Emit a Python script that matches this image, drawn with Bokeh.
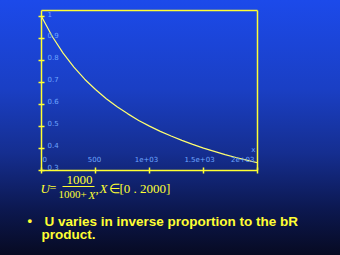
from bokeh.plotting import figure
from bokeh.models import Range1d, ColumnDataSource, Label, BoxAnnotation, LinearAxis, FixedTicker
from bokeh.core.properties import value
from bokeh.embed import file_html
from bokeh.resources import INLINE

# data
x_vals = [0, 100, 200, 300, 400, 500, 600, 700, 800, 900, 1000,
          1100, 1200, 1300, 1400, 1500, 1600, 1700, 1800, 1900, 2000]
u_vals = [1.0, 0.909, 0.833, 0.769, 0.714, 0.667, 0.625, 0.588, 0.556, 0.526, 0.5,
          0.476, 0.455, 0.435, 0.417, 0.4, 0.385, 0.37, 0.357, 0.345, 0.333]
x_ticks = [0, 500, 1000, 1500, 2000]
x_tick_labels = ["0", "500", "1e+03", "1.5e+03", "2e+03"]
y_ticks = [1.0, 0.9, 0.8, 0.7, 0.6, 0.5, 0.4, 0.3]
y_tick_labels = ["1", "0.9", "0.8", "0.7", "0.6", "0.5", "0.4", "0.3"]
x_min, x_max = 0, 2000
y_min, y_max = 0.3, 1.0274

YEL = "#ffff33"
CURVE = "#ffff70"
LBL = "#6ea6ff"

# plot box: x 0..2000 -> px 41..257, y 0.3 -> px 169.5, 1.0 -> px 16
kx = 216.0 / 2000
ky = 153.5 / 0.7
XS, XE = -41 / kx, 2000 + 83 / kx
YS, YE = 0.3 - 85.5 / ky, 1.0 + 16 / ky

p = figure(width=340, height=255, output_backend="svg", toolbar_location=None,
           x_range=Range1d(XS, XE), y_range=Range1d(YS, YE),
           min_border=0, min_border_left=0, min_border_right=0,
           min_border_top=0, min_border_bottom=0)
p.styles = {"background-image": "linear-gradient(to bottom, #1c4aea 0%, #1a3fc4 35%, #152e90 60%, #0c1850 82%, #070a22 100%)"}
p.background_fill_color = None
p.border_fill_color = None
p.outline_line_color = None
p.grid.visible = False

p.xaxis.fixed_location = y_min
p.xaxis.bounds = (x_min, x_max)
p.yaxis.fixed_location = x_min
p.yaxis.bounds = (y_min, y_max)
for ax in (p.xaxis[0], p.yaxis[0]):
    ax.axis_line_color = YEL
    ax.axis_line_width = 1.5
    ax.major_tick_line_color = YEL
    ax.major_tick_line_width = 1.5
    ax.major_tick_in = 3
    ax.major_tick_out = 3
    ax.minor_tick_line_color = None
    ax.major_label_text_color = None
    ax.major_label_text_font_size = "1px"
p.xaxis.ticker = x_ticks
p.yaxis.ticker = y_ticks

top_ax = LinearAxis(fixed_location=y_max, bounds=(x_min, x_max), ticker=FixedTicker(ticks=[]),
                    axis_line_color=YEL, axis_line_width=1.5, major_tick_line_color=None,
                    minor_tick_line_color=None, major_label_text_color=None,
                    major_label_text_font_size="1px")
p.add_layout(top_ax, "above")
right_ax = LinearAxis(fixed_location=x_max, bounds=(y_min, y_max), ticker=FixedTicker(ticks=[]),
                      axis_line_color=YEL, axis_line_width=1.5, major_tick_line_color=None,
                      minor_tick_line_color=None, major_label_text_color=None,
                      major_label_text_font_size="1px")
p.add_layout(right_ax, "right")

p.line(x_vals, u_vals, line_color=CURVE, line_width=1.2)

xs = ColumnDataSource(dict(x=x_ticks, y=[y_min] * len(x_ticks), t=x_tick_labels,
                           a=["left", "center", "center", "center", "right"],
                           o=[1, -1, -3, -4, -3]))
p.text(x="x", y="y", text="t", text_align="a", x_offset="o", source=xs, y_offset=-8,
       text_baseline="bottom", text_color=LBL, text_font=value("DejaVu Sans"),
       text_font_size="7px")
ys = ColumnDataSource(dict(x=[x_min] * len(y_ticks), y=y_ticks, t=y_tick_labels))
p.text(x="x", y="y", text="t", source=ys, x_offset=6, y_offset=-3,
       text_align="left", text_baseline="middle", text_color=LBL,
       text_font=value("DejaVu Sans"), text_font_size="7px")
p.text(x=[x_max], y=[y_min], text=["x"], x_offset=-2, y_offset=-20, text_align="right",
       text_baseline="middle", text_color=LBL, text_font=value("DejaVu Sans"),
       text_font_size="7px")

def lab(x, y, t, size="13px", font="Liberation Serif", style="normal", align="left",
        baseline="middle", color=YEL):
    p.add_layout(Label(x=x, y=y, x_units="canvas", y_units="canvas", text=t,
                       text_font=font, text_font_size=size, text_font_style=style,
                       text_align=align, text_baseline=baseline, text_color=color))

lab(40, 188, "U", size="13px", style="italic")
lab(49, 187, "=", size="12px")
lab(79, 179, "1000", size="13px", align="center")
lab(72, 194, "1000+", size="11px", align="center")
lab(88, 194, "X", size="11px", style="italic")
lab(95, 188, ",", size="13px")
lab(99, 188, "X", size="13px", style="italic")
lab(108, 188, "∈[0 . 2000]", size="13px")
p.add_layout(BoxAnnotation(left=62, right=94, top=185.5, bottom=186.5,
                           left_units="canvas", right_units="canvas",
                           top_units="canvas", bottom_units="canvas",
                           fill_color=YEL, fill_alpha=1, line_color=None))

lab(27, 220, "•", size="13px", font="Liberation Sans", style="bold")
lab(44, 220.5, "U varies in inverse proportion to the bR", size="13.5px",
    font="Liberation Sans", style="bold")
lab(41, 234, "product.", size="13.5px", font="Liberation Sans", style="bold")

open("out.html", "w").write(file_html(p, INLINE))
